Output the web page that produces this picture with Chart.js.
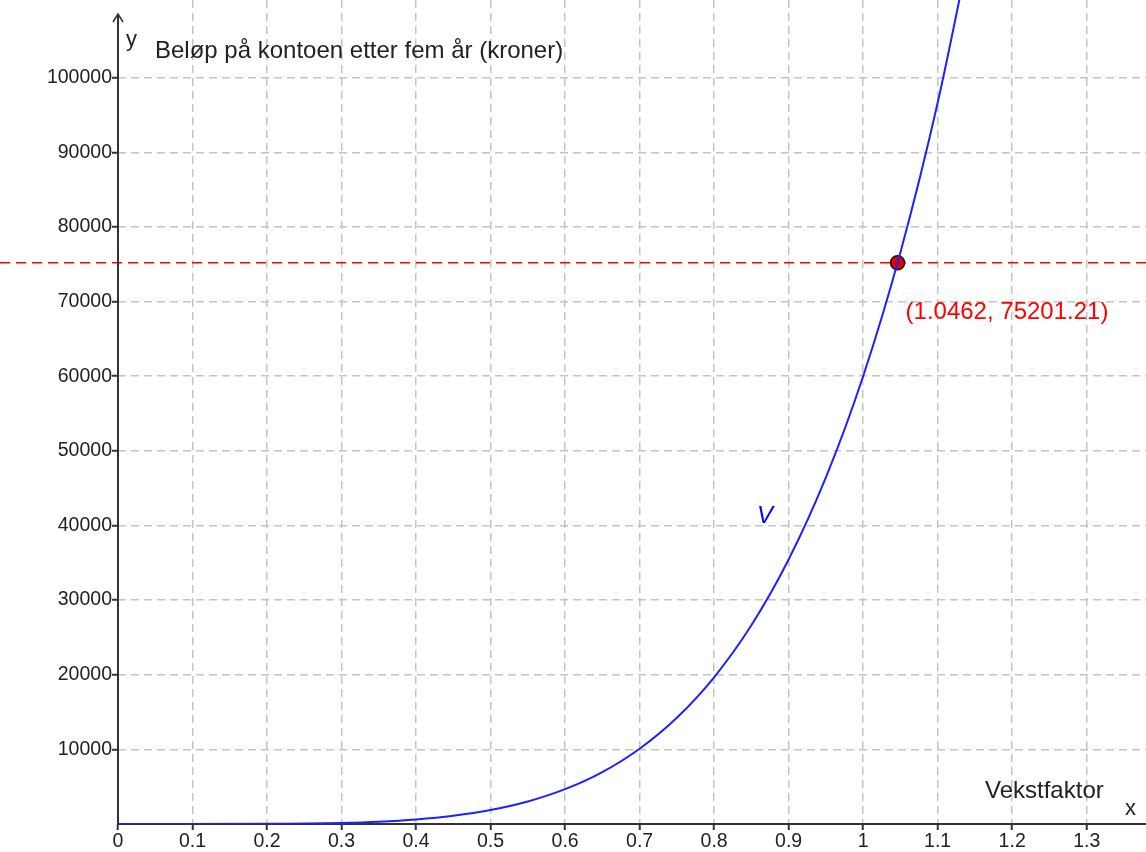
<!DOCTYPE html>
<html>
<head>
<meta charset="utf-8">
<script src="https://cdn.jsdelivr.net/npm/chart.js@4"></script>
<style>
html,body{margin:0;padding:0;background:#fff;}
#wrap{width:1146px;height:852px;position:relative;}
</style>
</head>
<body>
<div id="wrap"><canvas id="chart"></canvas></div>
<script>
// verdier lest av grafen V(x)
const xVals=[0,0.1,0.2,0.3,0.35,0.4,0.45,0.5,0.55,0.6,0.65,0.7,0.75,0.8,0.85,0.9,0.95,1.0,1.05,1.1,1.15];
const yVals=[0,0,20,150,310,610,1110,1880,3020,4670,6960,10090,14240,19660,26620,35430,46430,60000,76580,96630,120680];
const xTicks=[0,0.1,0.2,0.3,0.4,0.5,0.6,0.7,0.8,0.9,1,1.1,1.2,1.3];
const yTicks=[10000,20000,30000,40000,50000,60000,70000,80000,90000,100000];
const pointX=[1.0462];
const pointY=[75201.21];
const pointLabel="(1.0462, 75201.21)";
const yTitle="Beløp på kontoen etter fem år (kroner)";
const xTitle="Vekstfaktor";
const curveName="V";

const FONT="'Liberation Sans', Arial, sans-serif";

const overlay={
id:"overlay",
beforeDatasetsDraw(chart){
const ctx=chart.ctx,xs=chart.scales.x,ys=chart.scales.y;
const x0=xs.getPixelForValue(0),y0=ys.getPixelForValue(0);
ctx.save();
// horisontal linje y = punktets verdi
const py=ys.getPixelForValue(pointY[0]);
ctx.strokeStyle="#ff0000";ctx.lineWidth=1.5;ctx.setLineDash([10,6]);
ctx.beginPath();ctx.moveTo(0,py);ctx.lineTo(chart.width,py);ctx.stroke();
// akser
ctx.setLineDash([]);
ctx.strokeStyle="#333";ctx.lineWidth=2;
ctx.beginPath();ctx.moveTo(x0,y0);ctx.lineTo(chart.width,y0);ctx.stroke();
ctx.beginPath();ctx.moveTo(x0,y0);ctx.lineTo(x0,14);ctx.stroke();
ctx.lineWidth=1.5;
ctx.beginPath();ctx.moveTo(x0-5,22);ctx.lineTo(x0,14);ctx.lineTo(x0+5,22);ctx.stroke();
ctx.restore();
},
afterDraw(chart){
const ctx=chart.ctx,xs=chart.scales.x,ys=chart.scales.y;
const x0=xs.getPixelForValue(0);
ctx.save();
ctx.textBaseline="alphabetic";ctx.textAlign="left";
ctx.fillStyle="#222";
ctx.font="22px "+FONT;
ctx.fillText("y",x0+8,46);
ctx.fillText("x",1125,815);
ctx.font="24px "+FONT;
ctx.fillText(yTitle,x0+37,58);
ctx.fillText(xTitle,985,798);
const px=xs.getPixelForValue(pointX[0]),py=ys.getPixelForValue(pointY[0]);
ctx.fillStyle="#ff0000";
ctx.fillText(pointLabel,px+8,py+56);
ctx.fillStyle="#0000ff";
ctx.font="italic 24px "+FONT;
ctx.fillText(curveName,757,523);
ctx.restore();
}
};

const ctx=document.getElementById("chart").getContext("2d");
new Chart(ctx,{
data:{
datasets:[{
type:"line",
data:xVals.map((x,i)=>({x:x,y:yVals[i]})),
borderColor:"#2020ff",
borderWidth:2,
pointRadius:0,
cubicInterpolationMode:"monotone",
fill:false
},{
type:"scatter",
data:pointX.map((x,i)=>({x:x,y:pointY[i]})),
backgroundColor:"#e80000",
borderColor:"#111",
borderWidth:1.5,
pointRadius:7
}]
},
options:{
responsive:true,
maintainAspectRatio:false,
animation:false,
layout:{padding:0,autoPadding:false},
plugins:{legend:{display:false},tooltip:{enabled:false}},
scales:{
x:{
type:"linear",min:0,max:1.3796,
afterBuildTicks:s=>{s.ticks=xTicks.map(v=>({value:v}));},
afterFit:s=>{s.height=28;s.paddingLeft=0;s.paddingRight=0;},
ticks:{
font:{family:FONT,size:19.5},color:"#222",padding:0,maxRotation:0,autoSkip:false,
callback:v=>String(Number(v.toFixed(1)))
},
grid:{
color:c=>c.tick&&c.tick.value===0?"rgba(0,0,0,0)":"#c4c4c4",
lineWidth:1.5,tickLength:6,tickColor:"#333",tickWidth:2,tickBorderDash:[]
},
border:{display:false,dash:[8,5]}
},
y:{
type:"linear",min:0,max:110406,
afterBuildTicks:s=>{s.ticks=yTicks.map(v=>({value:v}));},
afterFit:s=>{s.width=118;s.paddingTop=0;s.paddingBottom=0;},
ticks:{font:{family:FONT,size:19.5},color:"#222",padding:0,autoSkip:false,callback:v=>String(v)},
grid:{
color:"#c4c4c4",
lineWidth:1.5,tickLength:6,tickColor:"#333",tickWidth:2,tickBorderDash:[]
},
border:{display:false,dash:[8,5]}
}
}
},
plugins:[overlay]
});
</script>
</body>
</html>
